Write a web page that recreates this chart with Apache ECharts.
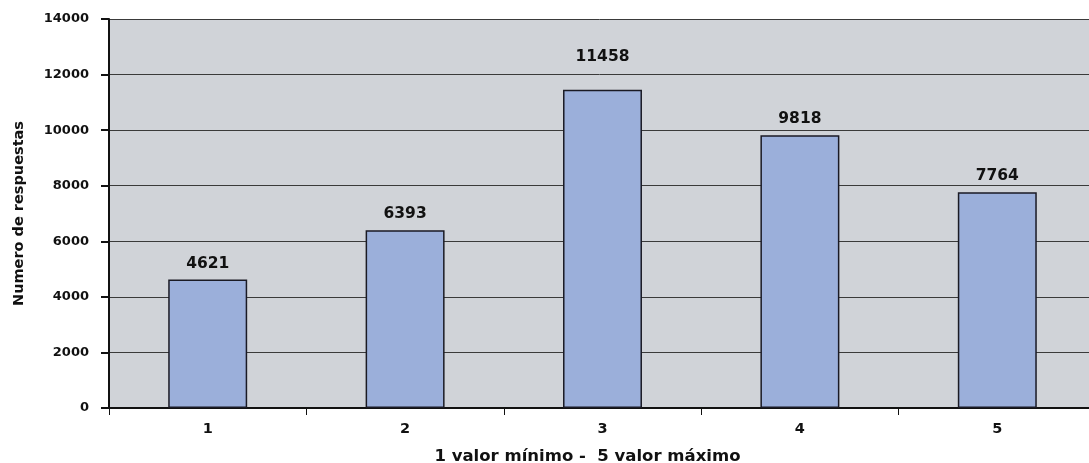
<!DOCTYPE html>
<html>
<head>
<meta charset="utf-8">
<script src="https://cdn.jsdelivr.net/npm/echarts@6/dist/echarts.min.js"></script>
<style>html,body{margin:0;padding:0;background:#fff}#c{width:1089px;height:463px}</style>
</head>
<body>
<div id="c"></div>
<script>
var categories = ['1', '2', '3', '4', '5'];
var respuestas = [4621, 6393, 11458, 9818, 7764];
var labelDistances = [8, 8, 25, 8, 8];

var chart = echarts.init(document.getElementById('c'), null, {renderer: 'canvas'});
var font = '"DejaVu Sans", Verdana, sans-serif';
chart.setOption({
  animation: false,
  grid: {left: 109, right: -7, top: 19, bottom: 55, show: true, backgroundColor: '#D0D3D8', borderWidth: 0, outerBoundsMode: 'none', containLabel: false},
  xAxis: {
    type: 'category',
    data: categories,
    boundaryGap: true,
    name: '1 valor mínimo -  5 valor máximo',
    nameLocation: 'middle',
    nameGap: 40,
    nameTextStyle: {fontFamily: font, fontWeight: 'bold', fontSize: 16.5, color: '#111', padding: [0, 30, 0, 0]},
    axisLine: {lineStyle: {color: '#111', width: 2}},
    axisTick: {show: true, alignWithLabel: false, length: 7, inside: false, lineStyle: {color: '#111', width: 1}},
    axisLabel: {fontFamily: font, fontWeight: 'bold', fontSize: 14.5, color: '#111', margin: 14}
  },
  yAxis: {
    type: 'value',
    min: 0, max: 14000, interval: 2000,
    name: 'Numero de respuestas',
    nameLocation: 'middle',
    nameGap: 82,
    nameRotate: 90,
    nameTextStyle: {fontFamily: font, fontWeight: 'bold', fontSize: 14.5, color: '#111'},
    axisLine: {show: true, lineStyle: {color: '#111', width: 2}},
    axisTick: {show: true, length: 8, lineStyle: {color: '#111', width: 2}},
    axisLabel: {fontFamily: font, fontWeight: 'bold', fontSize: 13, color: '#111', margin: 20, formatter: function (v) { return String(v); }},
    splitLine: {show: true, lineStyle: {color: '#3a3a3a', width: 1}}
  },
  series: [{
    type: 'bar',
    barWidth: '40%',
    data: respuestas.map(function (v, i) {
      return {value: v, label: {distance: labelDistances[i]}};
    }),
    itemStyle: {color: '#9BAFDA', borderColor: '#1a1a24', borderWidth: 1.5},
    label: {show: true, position: 'top', fontFamily: font, fontWeight: 'bold', fontSize: 15.5, color: '#111'}
  }]
});
</script>
</body>
</html>
